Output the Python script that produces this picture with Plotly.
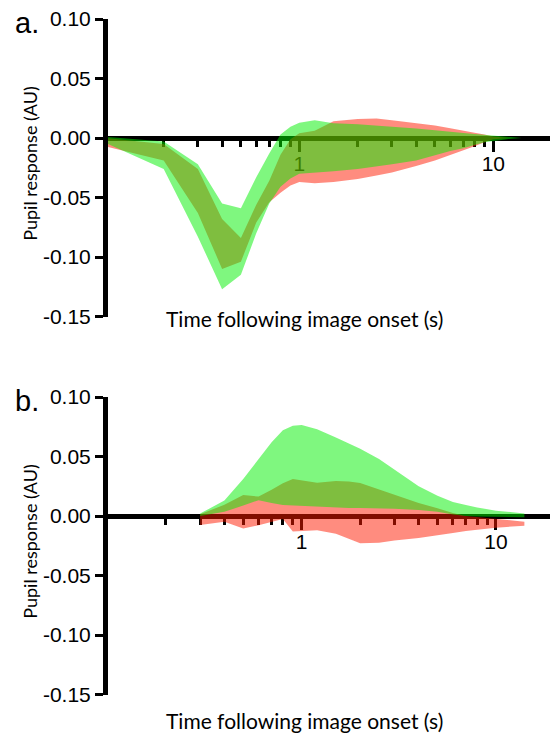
import plotly.graph_objects as go

# ---- Panel a: time points (s) and band limits (AU) ----
t_a = [0.1, 0.2, 0.3, 0.4, 0.5, 0.6, 0.7, 0.8, 0.9, 1.0, 1.2, 1.5, 2, 2.5, 3, 4, 5, 6, 7, 8, 9, 10, 12, 14]
green_hi_a = [0.001, -0.003, -0.022, -0.055, -0.059, -0.033, -0.013, 0.003, 0.0095, 0.0128, 0.015, 0.0125,
              0.0115, 0.0105, 0.0096, 0.008, 0.0065, 0.005, 0.0042, 0.0034, 0.0027, 0.002, 0.0008, 0.0]
green_lo_a = [-0.004, -0.026, -0.083, -0.127, -0.115, -0.080, -0.055, -0.041, -0.034, -0.030, -0.029, -0.028,
              -0.026, -0.024, -0.022, -0.019, -0.0145, -0.011, -0.0087, -0.0058, -0.0036, -0.0022, -0.0008, 0.0]
red_hi_a = [0.0, -0.005, -0.026, -0.068, -0.084, -0.056, -0.036, -0.014, -0.001, 0.004, 0.006, 0.014,
            0.016, 0.0163, 0.015, 0.0128, 0.0105, 0.0082, 0.0065, 0.0045, 0.003, 0.0012, 0.0, 0.0]
red_lo_a = [-0.007, -0.019, -0.063, -0.110, -0.104, -0.071, -0.054, -0.046, -0.040, -0.037, -0.038, -0.037,
            -0.0345, -0.0315, -0.029, -0.0235, -0.019, -0.0145, -0.0105, -0.007, -0.0035, -0.001, 0.0, 0.0]

# ---- Panel b ----
t_b = [0.3, 0.4, 0.5, 0.6, 0.7, 0.8, 0.9, 1.0, 1.2, 1.5, 1.75, 2, 2.5, 3, 4, 5, 6, 7, 8, 10, 12, 14]
green_hi_b = [0.002, 0.013, 0.031, 0.048, 0.062, 0.072, 0.0758, 0.0765, 0.073, 0.066, 0.061, 0.0565,
              0.048, 0.039, 0.025, 0.017, 0.0118, 0.0093, 0.0072, 0.0045, 0.0032, 0.0022]
green_lo_b = [0.0, 0.0035, 0.0088, 0.0133, 0.011, 0.0092, 0.0085, 0.008, 0.0078, 0.0072, 0.0068, 0.0067,
              0.0065, 0.006, 0.005, 0.0035, 0.0012, 0.0, -0.0005, -0.001, -0.001, -0.001]
red_hi_b = [0.0014, 0.0095, 0.0176, 0.0163, 0.022, 0.0275, 0.031, 0.030, 0.028, 0.0294, 0.029, 0.0278,
            0.0225, 0.0185, 0.011, 0.0065, 0.0025, 0.0, -0.001, -0.0025, -0.0038, -0.0048]
red_lo_b = [-0.0076, -0.0048, -0.0104, -0.0078, -0.005, -0.0025, -0.013, -0.0125, -0.012, -0.015, -0.019, -0.023,
            -0.0225, -0.0205, -0.0185, -0.016, -0.0143, -0.0125, -0.0115, -0.0098, -0.0088, -0.0082]

y_ticks = [0.10, 0.05, 0.00, -0.05, -0.10, -0.15]
y_ticktext = ["0.10", "0.05", "0.00", "-0.05", "-0.10", "-0.15"]
x_major = [1, 10]
x_minor = [0.2, 0.3, 0.4, 0.5, 0.6, 0.7, 0.8, 0.9, 2, 3, 4, 5, 6, 7, 8, 9]

RED = "rgba(255,25,0,0.5)"
GREEN = "rgba(0,240,0,0.5)"

W, H = 550, 735
ML = 108  # left margin: plot area starts here
TICK_FONT = dict(family="Liberation Sans, Arial, sans-serif", size=21, color="black")
YTITLE_FONT = dict(family="Lato, Open Sans, sans-serif", size=18, color="black")
XTITLE_FONT = dict(family="Lato, Open Sans, sans-serif", size=21, color="black")


def band(t, hi, lo, color, xa, ya):
    return go.Scatter(
        x=list(t) + list(t)[::-1],
        y=list(hi) + list(lo)[::-1],
        fill="toself", fillcolor=color, mode="lines",
        line=dict(width=0, color=color), hoverinfo="skip",
        xaxis=xa, yaxis=ya, showlegend=False,
    )


fig = go.Figure()
fig.add_trace(band(t_a, red_hi_a, red_lo_a, RED, "x", "y"))
fig.add_trace(band(t_a, green_hi_a, green_lo_a, GREEN, "x", "y"))
fig.add_trace(band(t_b, red_hi_b, red_lo_b, RED, "x2", "y2"))
fig.add_trace(band(t_b, green_hi_b, green_lo_b, GREEN, "x2", "y2"))


def py2paper(py):
    return 1 - py / H


def px2paper(px):
    return (px - ML) / (W - ML)


# vertical pixel layout of each panel: (pixel of 0.10, pixel of -0.15, pixel of 0.00)
panels = {"a": (19.0, 316.5, 138.0), "b": (397.0, 694.5, 516.0)}


def xaxis_cfg(rng, zero_py):
    return dict(
        type="log", range=rng, domain=[0, 1], anchor="free", position=py2paper(zero_py),
        showline=True, linewidth=5, linecolor="black", layer="below traces", automargin=False,
        showgrid=False, zeroline=False,
        ticks="outside", tickvals=x_major, ticktext=[str(v) for v in x_major],
        ticklen=11, tickwidth=3, tickcolor="black", tickfont=TICK_FONT, ticklabelstandoff=-6,
        minor=dict(tickvals=x_minor, ticks="outside", ticklen=6, tickwidth=3, tickcolor="black", showgrid=False),
    )


def yaxis_cfg(top_py, bot_py, anchor):
    return dict(
        range=[-0.15, 0.10], domain=[py2paper(bot_py), py2paper(top_py)], anchor=anchor,
        showline=True, linewidth=5, linecolor="black", showgrid=False, zeroline=False, automargin=False,
        ticks="outside", tickvals=y_ticks, ticktext=y_ticktext,
        ticklen=8, tickwidth=3, tickcolor="black", tickfont=TICK_FONT,
    )


fig.update_layout(
    width=W, height=H, autosize=False,
    margin=dict(l=ML, r=0, t=0, b=0, autoexpand=False),
    paper_bgcolor="white", plot_bgcolor="white", showlegend=False,
    xaxis=xaxis_cfg([-0.986, 1.292], panels["a"][2]),
    yaxis=yaxis_cfg(panels["a"][0], panels["a"][1], "x"),
    xaxis2=xaxis_cfg([-0.997, 1.278], panels["b"][2]),
    yaxis2=yaxis_cfg(panels["b"][0], panels["b"][1], "x2"),
)

annotations = []
for label, (top, bot, zero), xt_py in (("a.", panels["a"], 318), ("b.", panels["b"], 720)):
    annotations.append(dict(
        text=label, x=px2paper(13), y=py2paper(top + 4), xref="paper", yref="paper",
        xanchor="left", yanchor="middle", showarrow=False,
        font=dict(family="Liberation Sans, Arial, sans-serif", size=29, color="black"),
    ))
    annotations.append(dict(
        text="Pupil response (AU)", textangle=-90, x=px2paper(30), y=py2paper((top + bot) / 2 - 4),
        xref="paper", yref="paper", xanchor="center", yanchor="middle", showarrow=False, font=YTITLE_FONT,
    ))
    annotations.append(dict(
        text="Time following image onset (s)", x=px2paper(304), y=py2paper(xt_py),
        xref="paper", yref="paper", xanchor="center", yanchor="middle", showarrow=False, font=XTITLE_FONT,
    ))
fig.update_layout(annotations=annotations)

fig.write_html("out.html")
